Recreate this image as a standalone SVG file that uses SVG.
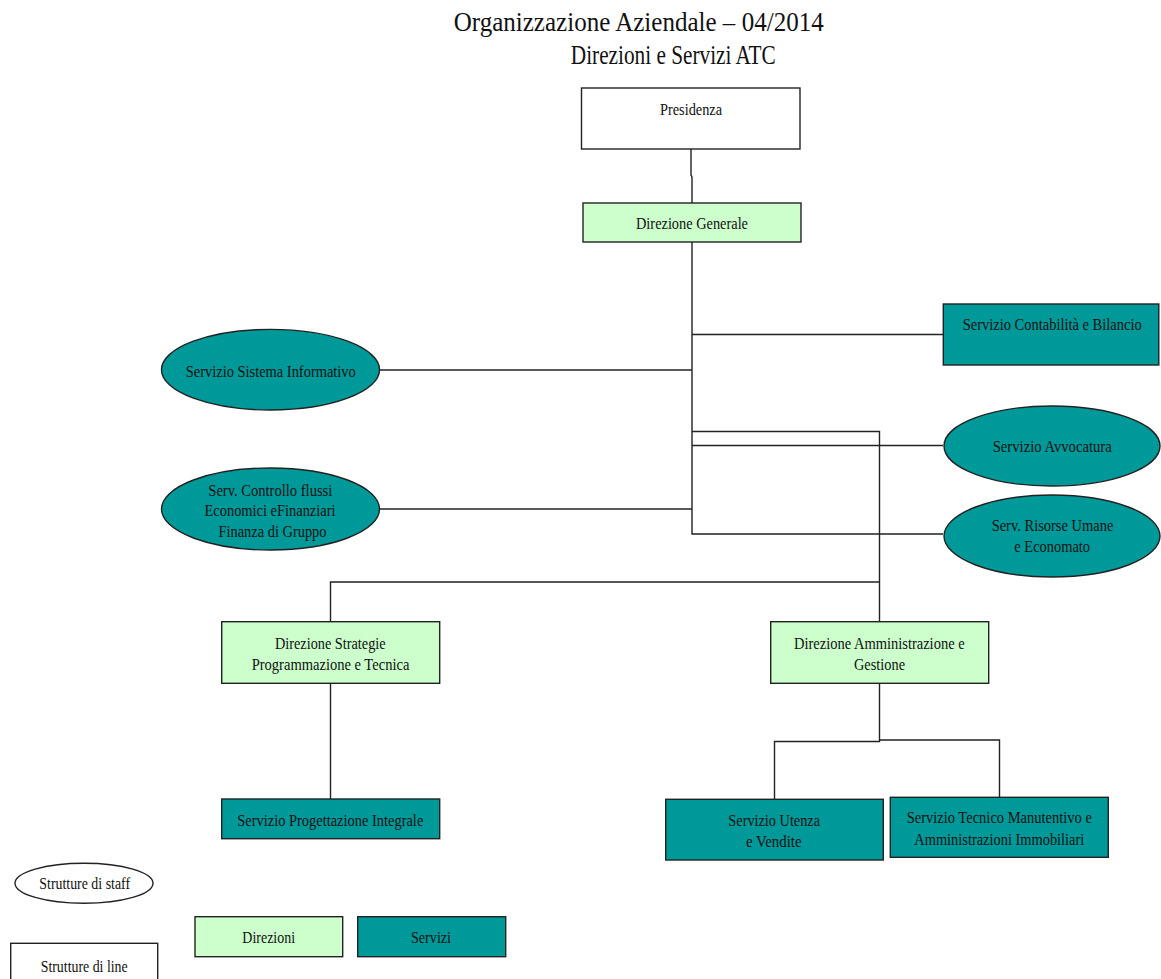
<svg xmlns="http://www.w3.org/2000/svg" width="1161" height="979" viewBox="0 0 1161 979">
<style>
text{font-family:"Liberation Serif","Times New Roman",serif;font-size:17px;fill:#111;text-anchor:middle}
.title{font-size:28px}
.line{fill:#fff;stroke:#222;stroke-width:1.4}
.dir{fill:#CCFFCC;stroke:#222;stroke-width:1.4}
.srv{fill:#009999;stroke:#222;stroke-width:1.4}
.conn{fill:none;stroke:#222;stroke-width:1.4}
</style>
<rect width="1161" height="979" fill="#fff"/>
<g id="title">
<text class="title" x="638.7" y="31" textLength="370" lengthAdjust="spacingAndGlyphs">Organizzazione Aziendale – 04/2014</text>
<text class="title" x="673.3" y="64" textLength="205" lengthAdjust="spacingAndGlyphs">Direzioni e Servizi ATC</text>
</g>
<g id="connectors" class="conn">
<polyline points="691,149 691,175 692,177 692,203"/>
<polyline points="692,242 692,534 943,534"/>
<line x1="692" y1="334.5" x2="943" y2="334.5"/>
<line x1="379" y1="370" x2="692" y2="370"/>
<polyline points="692,431.5 879.5,431.5 879.5,622"/>
<line x1="692" y1="445.5" x2="943" y2="445.5"/>
<line x1="379" y1="509" x2="692" y2="509"/>
<polyline points="879.5,582 330.5,582 330.5,622"/>
<line x1="330.5" y1="683" x2="330.5" y2="799"/>
<polyline points="879.5,683 879.5,741.5 774.5,741.5 774.5,799"/>
<polyline points="879.5,740 999.5,740 999.5,797"/>
</g>
<g id="presidenza">
<rect class="line" x="581.5" y="88" width="218.5" height="61"/>
<text x="691" y="115" textLength="62" lengthAdjust="spacingAndGlyphs">Presidenza</text>
</g>
<g id="direzione-generale">
<rect class="dir" x="583" y="203" width="218" height="39"/>
<text x="692" y="229" textLength="112" lengthAdjust="spacingAndGlyphs">Direzione Generale</text>
</g>
<g id="sistema-informativo">
<ellipse class="srv" cx="270.5" cy="369.7" rx="109" ry="40.3"/>
<text x="270.8" y="377" textLength="170" lengthAdjust="spacingAndGlyphs">Servizio Sistema Informativo</text>
</g>
<g id="controllo-flussi">
<ellipse class="srv" cx="270.5" cy="509" rx="109" ry="41"/>
<text x="270.3" y="495.5" textLength="124" lengthAdjust="spacingAndGlyphs">Serv. Controllo flussi</text>
<text x="270" y="515.7" textLength="131" lengthAdjust="spacingAndGlyphs">Economici eFinanziari</text>
<text x="272.5" y="537.3" textLength="108" lengthAdjust="spacingAndGlyphs">Finanza di Gruppo</text>
</g>
<g id="contabilita">
<rect class="srv" x="943.3" y="304" width="215.5" height="61"/>
<text x="1052.2" y="330" font-size="15" textLength="179" lengthAdjust="spacingAndGlyphs">Servizio Contabilità e Bilancio</text>
</g>
<g id="avvocatura">
<ellipse class="srv" cx="1052" cy="446" rx="108" ry="40"/>
<text x="1052.2" y="452" textLength="119" lengthAdjust="spacingAndGlyphs">Servizio Avvocatura</text>
</g>
<g id="risorse-umane">
<ellipse class="srv" cx="1052" cy="536" rx="108" ry="41"/>
<text x="1052.5" y="530.7" textLength="121.7" lengthAdjust="spacingAndGlyphs">Serv. Risorse Umane</text>
<text x="1052.2" y="552.3" textLength="75.7" lengthAdjust="spacingAndGlyphs">e Economato</text>
</g>
<g id="direzione-strategie">
<rect class="dir" x="221.7" y="621.7" width="218" height="61.6"/>
<text x="330.3" y="649" textLength="110.7" lengthAdjust="spacingAndGlyphs">Direzione Strategie</text>
<text x="330.5" y="670" textLength="157.7" lengthAdjust="spacingAndGlyphs">Programmazione e Tecnica</text>
</g>
<g id="progettazione">
<rect class="srv" x="221.7" y="799" width="218" height="39.7"/>
<text x="330.3" y="825.7" textLength="186" lengthAdjust="spacingAndGlyphs">Servizio Progettazione Integrale</text>
</g>
<g id="direzione-amministrazione">
<rect class="dir" x="770.7" y="621.7" width="218" height="61.6"/>
<text x="879.3" y="649" textLength="170.7" lengthAdjust="spacingAndGlyphs">Direzione Amministrazione e</text>
<text x="879.5" y="670" textLength="51" lengthAdjust="spacingAndGlyphs">Gestione</text>
</g>
<g id="utenza">
<rect class="srv" x="665.7" y="799.3" width="217.6" height="60.7"/>
<text x="774.2" y="825.7" textLength="91.7" lengthAdjust="spacingAndGlyphs">Servizio Utenza</text>
<text x="773.8" y="846.7" textLength="55.7" lengthAdjust="spacingAndGlyphs">e Vendite</text>
</g>
<g id="tecnico-manutentivo">
<rect class="srv" x="890.3" y="797.3" width="218" height="60"/>
<text x="999.3" y="823.3" textLength="185.3" lengthAdjust="spacingAndGlyphs">Servizio Tecnico Manutentivo e</text>
<text x="999.3" y="845" textLength="170" lengthAdjust="spacingAndGlyphs">Amministrazioni Immobiliari</text>
</g>
<g id="legend-staff">
<ellipse class="line" cx="84" cy="883.3" rx="69" ry="20"/>
<text x="84.7" y="889.3" textLength="90.7" lengthAdjust="spacingAndGlyphs">Strutture di staff</text>
</g>
<g id="legend-direzioni">
<rect class="dir" x="195" y="916.7" width="147.7" height="40"/>
<text x="268.7" y="943.3" textLength="52.7" lengthAdjust="spacingAndGlyphs">Direzioni</text>
</g>
<g id="legend-servizi">
<rect class="srv" x="357.7" y="916.7" width="148" height="40"/>
<text x="431" y="943.3" textLength="40" lengthAdjust="spacingAndGlyphs">Servizi</text>
</g>
<g id="legend-line">
<rect class="line" x="10.7" y="943.3" width="147" height="45"/>
<text x="84.2" y="971.7" textLength="87" lengthAdjust="spacingAndGlyphs">Strutture di line</text>
</g>
</svg>
